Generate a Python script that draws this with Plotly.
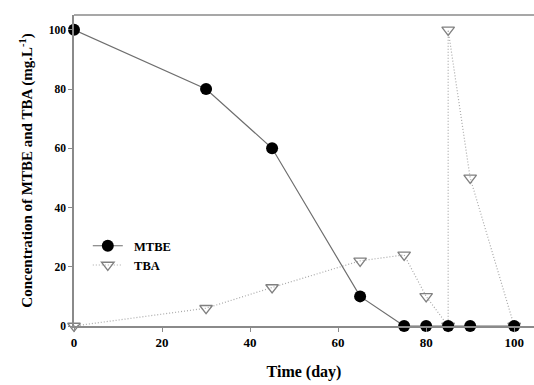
import plotly.graph_objects as go

mtbe_day = [0, 30, 45, 65, 75, 80, 85, 90, 100]
mtbe_conc = [100, 80, 60, 10, 0, 0, 0, 0, 0]
tba_day = [0, 30, 45, 65, 75, 80, 85, 85, 90, 100]
tba_conc = [0, 6, 13, 22, 24, 10, 0, 100, 50, 0]
x_ticks = [0, 20, 40, 60, 80, 100]
y_ticks = [0, 20, 40, 60, 80, 100]

FONT = "Liberation Serif"

fig = go.Figure()
fig.add_trace(go.Scatter(
    x=tba_day, y=tba_conc, name="&nbsp;&nbsp;TBA", mode="lines+markers",
    line=dict(color="#a8a8a8", width=1.2, dash="1px,2px"),
    marker=dict(symbol="triangle-down-open", size=11, color="#808080", line=dict(width=1.3)),
    cliponaxis=False,
))
fig.add_trace(go.Scatter(
    x=mtbe_day, y=mtbe_conc, name="&nbsp;&nbsp;MTBE", mode="lines+markers",
    line=dict(color="#6e6e6e", width=1.2),
    marker=dict(symbol="circle", size=12, color="black"),
    cliponaxis=False,
))

fig.update_layout(
    width=534, height=385,
    margin=dict(l=74, r=0, t=15, b=59),
    paper_bgcolor="white", plot_bgcolor="white",
    font=dict(family=FONT, color="black"),
    showlegend=True,
    legend=dict(
        x=0.03, y=0.305, xanchor="left", yanchor="top",
        traceorder="reversed",
        font=dict(family=FONT, size=12.5, color="black", weight="bold"),
        bgcolor="rgba(0,0,0,0)", itemwidth=30, tracegroupgap=0,
    ),
    xaxis=dict(
        range=[0, 104.5], tickvals=x_ticks, showgrid=False, zeroline=False,
        showline=True, linecolor="#8a8a8a", linewidth=1.5,
        ticks="outside", ticklen=4, tickcolor="#8a8a8a",
        tickfont=dict(family=FONT, size=13, color="black", weight="bold"),
        title=dict(text="Time (day)", font=dict(family=FONT, size=16, color="black", weight="bold"), standoff=16),
    ),
    yaxis=dict(
        range=[0, 105], tickvals=y_ticks, showgrid=False, zeroline=False,
        showline=True, linecolor="#8a8a8a", linewidth=1.5,
        ticks="outside", ticklen=4, tickcolor="#8a8a8a",
        tickfont=dict(family=FONT, size=11.5, color="black", weight="bold"),
        title=dict(text="Concentration of MTBE and TBA (mg.L<sup>-1</sup>)",
                   font=dict(family=FONT, size=15, color="black", weight="bold"), standoff=12),
    ),
    shapes=[dict(type="line", xref="paper", yref="paper", x0=0, x1=1, y0=1, y1=1,
                 line=dict(color="#8a8a8a", width=1.5))],
)

fig.write_html("out.html")
